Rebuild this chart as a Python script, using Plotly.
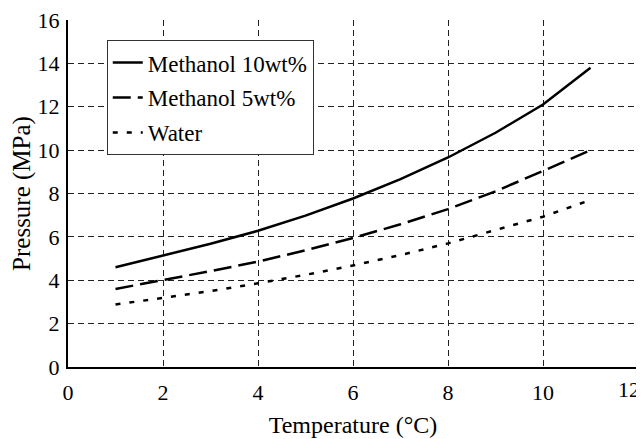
import plotly.graph_objects as go

temperature = [1, 2, 3, 4, 5, 6, 7, 8, 9, 10, 11]
methanol_10 = [4.6, 5.13, 5.68, 6.28, 6.98, 7.77, 8.66, 9.66, 10.8, 12.1, 13.8]
methanol_5 = [3.6, 4.0, 4.42, 4.86, 5.38, 5.95, 6.58, 7.28, 8.1, 9.04, 10.0]
water = [2.88, 3.18, 3.5, 3.86, 4.25, 4.68, 5.16, 5.7, 6.3, 6.93, 7.7]

x_ticks = [0, 2, 4, 6, 8, 10, 12]
x_labels = ["0", "2", "4", "6", "8", "10", "12"]
y_ticks = [0, 2, 4, 6, 8, 10, 12, 14, 16]
y_labels = ["0", "2", "4", "6", "8", "10", "12", "14", "16"]

FONT = "Liberation Serif, Times New Roman, serif"

fig = go.Figure()
fig.add_trace(go.Scatter(x=temperature, y=methanol_10, mode="lines", name="Methanol 10wt%",
                         legendgroup="a", line=dict(color="black", width=2.5, dash="solid")))
fig.add_trace(go.Scatter(x=temperature, y=methanol_5, mode="lines", name="Methanol 5wt%",
                         legendgroup="b", line=dict(color="black", width=2.5, dash="18px,7px")))
fig.add_trace(go.Scatter(x=temperature, y=water, mode="lines", name="Water",
                         legendgroup="c", line=dict(color="black", width=2.5, dash="5px,9px")))

grid = dict(showgrid=True, gridcolor="#222222", gridwidth=1, griddash="6px,4px")

# the last x tick label sits at the window edge; it is drawn as an annotation
# anchored at its tick value so that it stays fully visible
tick_text_main = x_labels[:-1] + [""]

# page body has an 8px default margin; the figure is sized to fit the window
fig.update_layout(
    width=636, height=431,
    margin=dict(l=60, r=6, t=12, b=72),
    paper_bgcolor="white", plot_bgcolor="white",
    font=dict(family=FONT, size=22, color="black"),
    showlegend=True,
    legend=dict(x=0.068, y=0.942, xanchor="left", yanchor="top",
                bgcolor="white", bordercolor="#333333", borderwidth=1,
                font=dict(family=FONT, size=23, color="black"),
                tracegroupgap=2, itemwidth=30),
    xaxis=dict(range=[0, 12], tickvals=x_ticks, ticktext=tick_text_main,
               showline=True, linecolor="black", linewidth=2, zeroline=False,
               automargin=False, ticklabeloverflow="allow",
               tickfont=dict(family=FONT, size=22), ticklabelstandoff=5,
               ticks="", title=dict(text="Temperature (°C)", standoff=12,
                                    font=dict(family=FONT, size=24)), **grid),
    yaxis=dict(range=[0, 16], tickvals=y_ticks, ticktext=y_labels,
               showline=True, linecolor="black", linewidth=2, zeroline=False,
               automargin=False, ticklabeloverflow="allow",
               tickfont=dict(family=FONT, size=22), ticklabelstandoff=2,
               ticks="", title=dict(text="Pressure (MPa)", standoff=6,
                                    font=dict(family=FONT, size=25)), **grid),
)
fig.add_annotation(x=x_ticks[-1], xref="x", y=0, yref="paper", text=x_labels[-1],
                   showarrow=False, xanchor="right", yanchor="middle",
                   xshift=4, yshift=-22, font=dict(family=FONT, size=22, color="black"))
fig.add_shape(type="line", xref="paper", yref="paper", x0=1, x1=1, y0=0, y1=1,
              line=dict(color="black", width=1))

fig.write_html("out.html")
